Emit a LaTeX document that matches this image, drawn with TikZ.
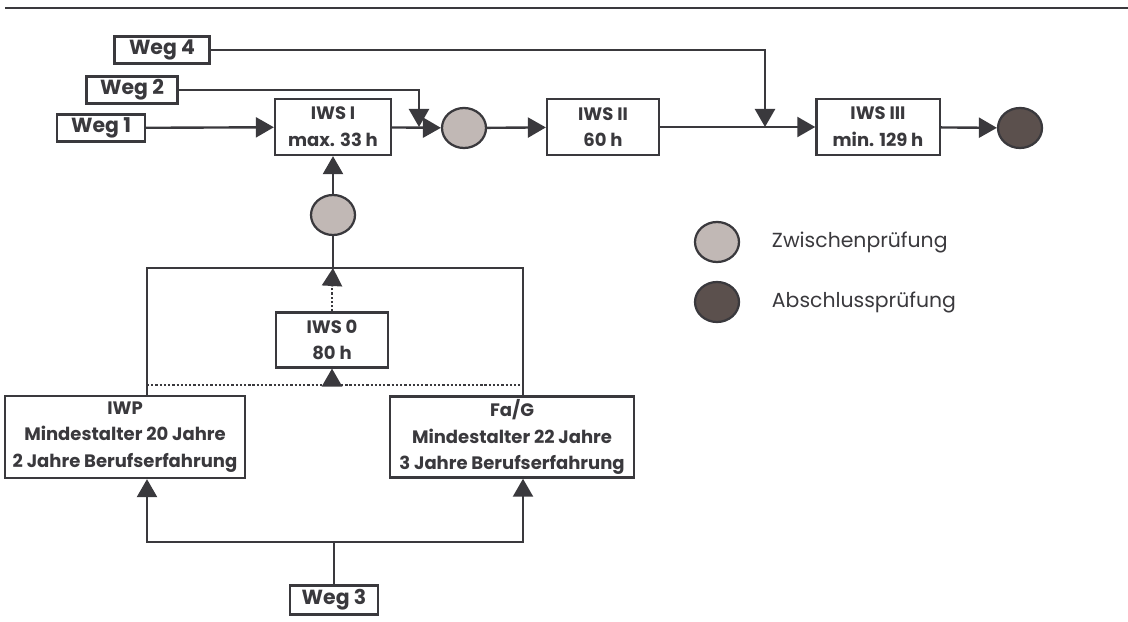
\documentclass[tikz,border=0pt]{standalone}
\usepackage{fontspec}
\setmainfont{Poppins}
\usetikzlibrary{arrows.meta,positioning,shapes.geometric}
\definecolor{inkx}{HTML}{3A393D}
\definecolor{zwfill}{HTML}{C1B8B5}
\definecolor{abfill}{HTML}{5B504D}
\tikzset{
  ar/.style={-{Triangle[length=4.5mm,width=5mm]},line width=1.7pt,inkx},
  ln/.style={line width=1.7pt,inkx},
  dt/.style={line width=1.7pt,inkx,dash pattern=on 1.6pt off 1.4pt},
  box/.style={draw=inkx,line width=1.6pt,fill=white,align=center,inner sep=1pt,text=inkx,font=\bfseries\fontsize{12.8}{19}\selectfont},
  wegbox/.style={box,minimum height=0.68cm,font=\bfseries\fontsize{14.5}{16}\selectfont},
  iwsbox/.style={box,minimum height=1.4cm},
  zp/.style={ellipse,draw=inkx,line width=1.6pt,fill=zwfill,minimum width=1.1cm,minimum height=1cm,inner sep=0pt},
  ap/.style={zp,fill=abfill},
  legtext/.style={anchor=west,text=inkx,font=\fontsize{14.5}{16}\selectfont}
}
\begin{document}
\begin{tikzpicture}[x=0.025cm,y=-0.025cm]
\useasboundingbox (0,0) rectangle (1128,622);
\draw[ln,line width=2pt] (5,8) -- (1128,8);
% Wege
\node[wegbox,minimum width=2.37cm] (w4) at (162,50) {Weg 4};
\node[wegbox,minimum width=2.28cm] (w2) at (132,90) {Weg 2};
\node[wegbox,minimum width=2.2cm] (w1) at (101,128) {Weg 1};
\node[wegbox,minimum width=2.2cm,minimum height=0.72cm] (w3) at (334,600) {Weg 3};
% Stufen
\node[iwsbox,minimum width=2.9cm] (iwsI) at (333,127) {IWS I\\max. 33 h};
\node[iwsbox,minimum width=2.8cm] (iwsII) at (603,127) {IWS II\\60 h};
\node[iwsbox,minimum width=3.08cm] (iwsIII) at (878,127) {IWS III\\min. 129 h};
\node[iwsbox,minimum width=2.8cm,minimum height=1.37cm] (iws0) at (332,340) {IWS 0\\80 h};
\node[box,minimum width=6cm,minimum height=2.05cm] (iwp) at (125,437) {IWP\\Mindestalter 20 Jahre\\2 Jahre Berufserfahrung};
\node[box,minimum width=6.1cm,minimum height=2.03cm] (fag) at (512,437) {Fa/G\\Mindestalter 22 Jahre\\3 Jahre Berufserfahrung};
% Pruefungen
\node[zp] (zp1) at (464,128) {};
\node[zp] (zp2) at (333,215) {};
\node[ap] (ab) at (1020,128) {};
% Legende
\node[zp] (zpL) at (717,242) {};
\node[ap] (abL) at (717,302) {};
\node[legtext] (zpT) at (767,242) {Zwischenprüfung};
\node[legtext] (abT) at (767,302) {Abschlussprüfung};
% Hilfspunkte
\coordinate (j2) at (419,127);
\coordinate (j4) at (765,127);
\coordinate (lx) at (147,268);
\coordinate (rx) at (523,268);
\coordinate (top) at (333,268);
\coordinate (dl) at (147,385);
\coordinate (dr) at (523,385);
\coordinate (j3) at (334,542);
% Verbindungen
\draw[ar] (w1) -- (iwsI);
\draw[ar] (iwsI) -- (zp1);
\draw[ar] (w2.east) -| (j2);
\draw[ar] (w4.east) -| (j4);
\draw[ar] (zp1) -- (iwsII);
\draw[ar] (iwsII) -- (iwsIII);
\draw[ar] (iwsIII) -- (ab);
\draw[ar] (zp2) -- (iwsI);
\draw[ln] (iwp.north -| lx) -- (lx) -- (rx) -- (fag.north -| rx);
\draw[ln] (top) -- (zp2);
\draw[dt] (iws0.north) -- ++(0,-30);
\draw[ar] (iws0.north) ++(0,-25) -- (top);
\draw[dt] (dl) -- (dr);
\draw[ar] (iws0.south |- dl) -- (iws0.south);
\draw[ln] (w3) -- (j3);
\draw[ar] (j3) -| (iwp.south -| lx);
\draw[ar] (j3) -| (fag.south -| rx);
\end{tikzpicture}
\end{document}
